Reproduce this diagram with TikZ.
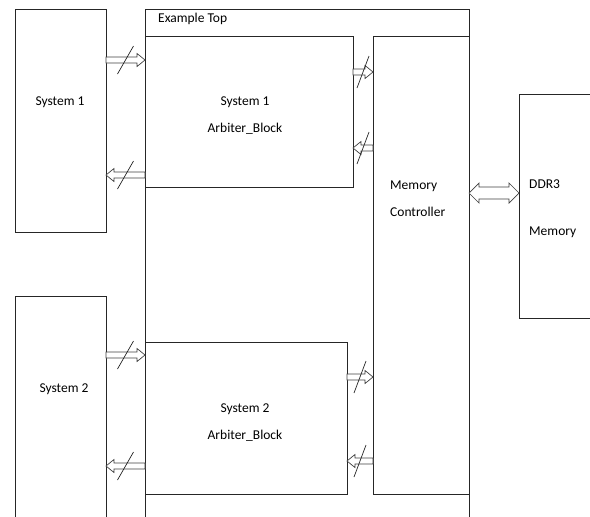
\documentclass[tikz,border=0pt]{standalone}
\usepackage{fontspec}
\setmainfont{Carlito}
\usepackage{tikz}
\usetikzlibrary{positioning, arrows.meta, calc}

\tikzset{
    blk/.style={draw=black!85, line width=0.8pt, inner sep=0pt, outer sep=0pt, anchor=north west},
    txt/.style={font=\fontsize{13.5}{27}\selectfont, inner sep=0pt},
    bus/.style={draw=black!75, line width=0.7pt, fill=white, to path={
        let \p1=(\tikztostart), \p2=(\tikztotarget), \n1={sign(\x2-\x1)} in
        (\x1,\y1+3pt) -- (\x2-\n1*8pt,\y1+3pt) -- (\x2-\n1*8pt,\y1+6.5pt) -- (\x2,\y1)
        -- (\x2-\n1*8pt,\y1-6.5pt) -- (\x2-\n1*8pt,\y1-3pt) -- (\x1,\y1-3pt) -- cycle}},
    wbus/.style={draw=black!75, line width=0.7pt, fill=white, to path={
        let \p1=(\tikztostart), \p2=(\tikztotarget) in
        (\x1,\y1) -- (\x1+10pt,\y1+10pt) -- (\x1+10pt,\y1+6pt) -- (\x2-10pt,\y1+6pt) -- (\x2-10pt,\y1+10pt)
        -- (\x2,\y1) -- (\x2-10pt,\y1-10pt) -- (\x2-10pt,\y1-6pt) -- (\x1+10pt,\y1-6pt) -- (\x1+10pt,\y1-10pt) -- cycle}},
    slash/.style={draw=black!85, line width=0.7pt}
}

\begin{document}
\begin{tikzpicture}[x=1pt, y=-1pt]
    \useasboundingbox (0,0) rectangle (590,517);
    \clip (0,0) rectangle (590,517);

    % outer blocks
    \node[blk, minimum width=91pt, minimum height=223pt] (sysA) at (15,9) {};
    \node[blk, minimum width=91pt, minimum height=240pt] (sysB) at (15,296) {};
    \node[blk, minimum width=324pt, minimum height=530pt] (top) at (145,9) {};
    \node[blk, minimum width=208pt, minimum height=151pt] (arbA) at (145,36) {};
    \node[blk, minimum width=202pt, minimum height=152pt] (arbB) at (145,342) {};
    \node[blk, minimum width=96pt, minimum height=458pt] (mc) at (373,36) {};
    \node[blk, minimum width=90pt, minimum height=224pt] (ddr) at (519,94) {};

    % labels
    \node[txt, anchor=west] (topLbl) at (158,19) {Example Top};
    \node[txt] (sysALbl) at (60,102) {System 1};
    \node[txt] (sysBLbl) at (64,389) {System 2};
    \node[txt, align=center] (arbALbl) at (245,115.5) {System 1\\Arbiter\_Block};
    \node[txt, align=center] (arbBLbl) at (245,422.5) {System 2\\Arbiter\_Block};
    \node[txt, align=left, anchor=west] (mcLbl) at (390,198.5) {Memory\\Controller};
    \node[txt, align=left, anchor=west, font=\fontsize{13.5}{47}\selectfont] (ddrLbl) at (529,208.5) {DDR3\\Memory};

    % bus end points
    \coordinate (a1) at ([yshift=-51pt]sysA.north east);
    \coordinate (a2) at ([yshift=-24pt]arbA.north west);
    \coordinate (a3) at ([yshift=-139pt]arbA.north west);
    \coordinate (a4) at ([yshift=-166pt]sysA.north east);
    \coordinate (m1) at ([yshift=-36pt]arbA.north east);
    \coordinate (m2) at ([yshift=-36pt]mc.north west);
    \coordinate (m3) at ([yshift=-112pt]mc.north west);
    \coordinate (m4) at ([yshift=-112pt]arbA.north east);
    \coordinate (b1) at ([yshift=-59pt]sysB.north east);
    \coordinate (b2) at ([yshift=-13pt]arbB.north west);
    \coordinate (b3) at ([yshift=-124pt]arbB.north west);
    \coordinate (b4) at ([yshift=-170pt]sysB.north east);
    \coordinate (n1) at ([yshift=-35pt]arbB.north east);
    \coordinate (n2) at ([yshift=-341pt]mc.north west);
    \coordinate (n3) at ([yshift=-425pt]mc.north west);
    \coordinate (n4) at ([yshift=-119pt]arbB.north east);
    \coordinate (d1) at ([yshift=-157pt]mc.north east);
    \coordinate (d2) at ([yshift=-99pt]ddr.north west);

    % buses with width slashes
    \foreach \s/\t in {a1/a2, a3/a4, b1/b2, b3/b4} {
        \draw[bus] (\s) to (\t);
        \draw[slash] ($(\s)!0.5!(\t)+(-8,14)$) -- ($(\s)!0.5!(\t)+(8,-14)$);
    }
    \foreach \s/\t in {m1/m2, m3/m4, n1/n2, n3/n4} {
        \draw[bus] (\s) to (\t);
        \draw[slash] ($(\s)!0.5!(\t)+(-6,16)$) -- ($(\s)!0.5!(\t)+(6,-16)$);
    }
    \draw[wbus] (d1) to (d2);
\end{tikzpicture}
\end{document}
